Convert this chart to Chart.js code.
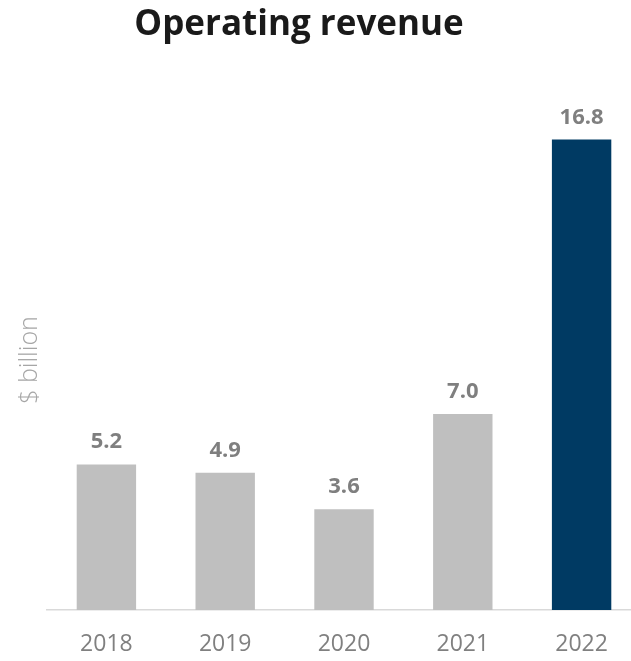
<!DOCTYPE html>
<html>
<head>
<meta charset="utf-8">
<script src="https://cdn.jsdelivr.net/npm/chart.js@4"></script>
<style>
  html, body { margin:0; padding:0; background:#fff; overflow:hidden; }
  #wrap { width:641px; height:661px; position:relative; }
</style>
</head>
<body>
<div id="wrap"><canvas id="chart"></canvas></div>
<script>
// data
const years = ['2018', '2019', '2020', '2021', '2022'];
const revenue = [5.2, 4.9, 3.6, 7.0, 16.8];
const titleText = 'Operating revenue';
const yTitle = '$ billion';

const FONT = '"Open Sans", "Noto Sans", sans-serif';
const GRAY = '#bfbfbf';
const NAVY = '#003a63';

// title, y axis caption and value labels
const decorations = {
  id:'decorations',
  afterDatasetsDraw(chart){
    const ctx = chart.ctx;
    ctx.save();
    ctx.fillStyle = '#1a1a1a';
    ctx.font = 'bold 35px ' + FONT;
    ctx.textAlign = 'center';
    ctx.textBaseline = 'middle';
    ctx.fillText(titleText, 299, 25);

    ctx.save();
    ctx.translate(30, 360);
    ctx.rotate(-Math.PI/2);
    ctx.fillStyle = '#a6a6a6';
    ctx.font = '300 25px ' + FONT;
    ctx.fillText(yTitle, 0, 0);
    ctx.restore();

    const meta = chart.getDatasetMeta(0);
    ctx.fillStyle = '#7f7f7f';
    ctx.font = 'bold 22px ' + FONT;
    ctx.textBaseline = 'alphabetic';
    meta.data.forEach((bar, i)=>{
      ctx.fillText(revenue[i].toFixed(1), bar.x, bar.y - 16);
    });
    ctx.restore();
  }
};

new Chart(document.getElementById('chart'), {
  type:'bar',
  data:{
    labels:years,
    datasets:[{
      data:revenue,
      backgroundColor:years.map((y,i)=> i === years.length-1 ? NAVY : GRAY),
      borderWidth:0,
      categoryPercentage:1,
      barPercentage:0.5
    }]
  },
  options:{
    responsive:true,
    maintainAspectRatio:false,
    animation:false,
    layout:{padding:{top:50, right:0, bottom:0, left:0}},
    plugins:{
      legend:{display:false},
      tooltip:{enabled:false},
      title:{display:false}
    },
    scales:{
      x:{
        grid:{display:false, drawTicks:false},
        border:{display:true, color:'#d9d9d9', width:1.5},
        ticks:{color:'#808080', padding:21, font:{family:FONT, size:23}},
        afterFit(scale){ scale.height = 51; }
      },
      y:{
        min:0,
        max:20,
        grid:{display:false, drawTicks:false},
        border:{display:false},
        ticks:{display:false},
        afterFit(scale){ scale.width = 47; }
      }
    }
  },
  plugins:[decorations]
});
</script>
</body>
</html>
